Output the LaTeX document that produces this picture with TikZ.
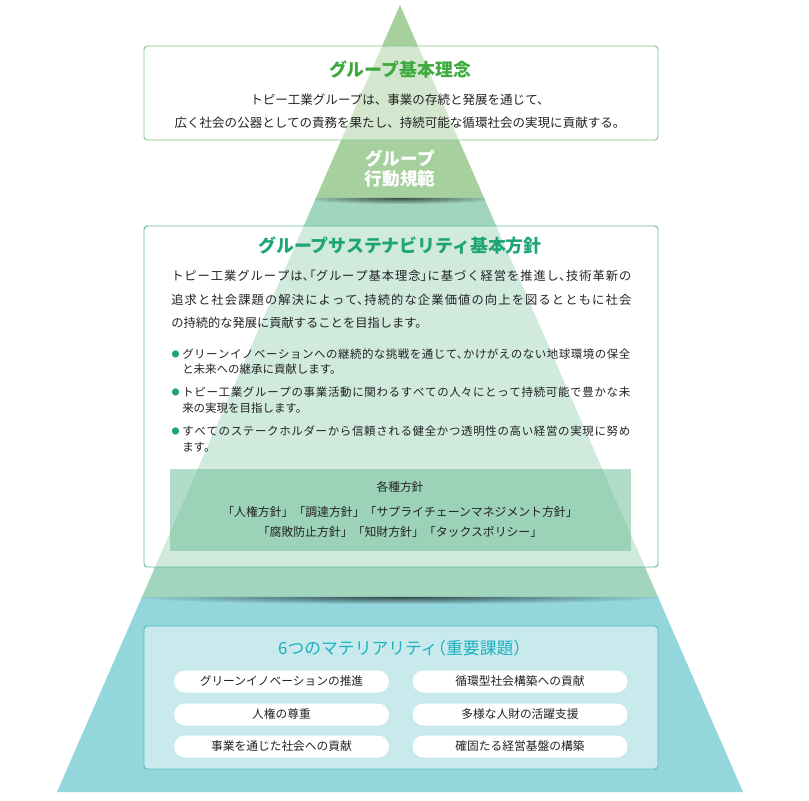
\documentclass[tikz,border=0pt]{standalone}
\usepackage{fontspec}
\setmainfont{Noto Sans CJK JP}
\newfontfamily\haltfont{Noto Sans CJK JP}[RawFeature=+halt]
\XeTeXlinebreaklocale "ja"
\XeTeXlinebreakskip=0pt plus 3pt
\usetikzlibrary{calc}

\definecolor{bandtop}{RGB}{166,208,158}
\definecolor{bandmid}{RGB}{161,213,190}
\definecolor{bandlow}{RGB}{147,214,220}
\definecolor{titleone}{RGB}{62,170,62}
\definecolor{titletwo}{RGB}{30,165,118}
\definecolor{titlethree}{RGB}{28,176,192}
\definecolor{lineone}{RGB}{125,200,128}
\definecolor{linetwo}{RGB}{95,188,148}
\definecolor{linethree}{RGB}{80,190,202}
\definecolor{policyfill}{RGB}{107,188,151}
\definecolor{bodytext}{RGB}{35,35,35}

\newcommand{\fullline}[1]{\parfillskip=0pt\relax#1\par}

\begin{document}
\begin{tikzpicture}[x=0.75pt,y=-0.75pt,
    card/.style={rounded corners=2.5pt, fill=white, fill opacity=0.5, line width=0.7pt},
    title/.style={inner sep=0pt, font=\fontsize{13.4}{16}\selectfont\bfseries},
    body/.style={inner sep=0pt, text=bodytext},
    parline/.style={body, anchor=west, text width=345pt, align=justify,
        font=\haltfont\fontsize{9.2}{11}\selectfont},
    bulline/.style={body, anchor=west, text width=336pt, align=justify,
        font=\haltfont\fontsize{8.6}{10}\selectfont},
    dot/.style={inner sep=0pt, text=titletwo, font=\fontsize{6}{6}\selectfont},
    pill/.style={body, fill=white, rounded corners=8pt, minimum width=161pt,
        minimum height=16.5pt, font=\fontsize{8.8}{10}\selectfont}]
\useasboundingbox (0,0) rectangle (809,800);

% pyramid
\coordinate (apex) at (400,5);
\coordinate (baseL) at (57,792);
\coordinate (baseR) at (743,792);
\coordinate (topL) at ($(apex)!0.2452!(baseL)$);
\coordinate (topR) at ($(apex)!0.2452!(baseR)$);
\coordinate (midL) at ($(apex)!0.7522!(baseL)$);
\coordinate (midR) at ($(apex)!0.7522!(baseR)$);

\fill[bandlow] (midL) -- (midR) -- (baseR) -- (baseL) -- cycle;
\fill[bandmid] (topL) -- (topR) -- (midR) -- (midL) -- cycle;
\fill[bandtop] (apex) -- (topR) -- (topL) -- cycle;

% shadows under the steps
\begin{scope}
\clip (topL) -- (topR) -- (midR) -- (midL) -- cycle;
\shade[inner color=black!65!bandmid, outer color=bandmid] (400,198) ellipse [x radius=100, y radius=6];
\end{scope}
\begin{scope}
\clip (midL) -- (midR) -- (baseR) -- (baseL) -- cycle;
\shade[inner color=black!65!bandlow, outer color=bandlow] (400,597) ellipse [x radius=270, y radius=7];
\end{scope}

% boxes
\draw[card, draw=lineone] (144,46) rectangle (658,140);
\draw[card, draw=linetwo] (144,226) rectangle (658,567);
\fill[policyfill, fill opacity=0.52] (170,469) rectangle (631,551);
\draw[card, draw=linethree] (144,626) rectangle (658,769);

% group philosophy
\node[title, text=titleone] (philo) at (400,70) {グループ基本理念};
\node[body, align=center, font=\fontsize{9.4}{17.3}\selectfont] (philotext) at (400,111.5)
    {トピー工業グループは、事業の存続と発展を通じて、\\
     広く社会の公器としての責務を果たし、持続可能な循環社会の実現に貢献する。};

% code of conduct
\node[title, text=white, align=center, font=\fontsize{13.2}{15}\selectfont\bfseries] (conduct) at (400,169)
    {グループ\\行動規範};

% sustainability policy
\node[title, text=titletwo] (susti) at (400,246) {グループサステナビリティ基本方針};
\node[parline] (par1) at (171,276) {\fullline{トピー工業グループは、「グループ基本理念」に基づく経営を推進し、技術革新の}};
\node[parline] (par2) at (171,299.5) {\fullline{追求と社会課題の解決によって、持続的な企業価値の向上を図るとともに社会}};
\node[parline] (par3) at (171,323) {の持続的な発展に貢献することを目指します。};

\node[dot] (dot1) at (175.5,354) {●};
\node[bulline] (bul1a) at (182,354) {\fullline{グリーンイノベーションへの継続的な挑戦を通じて、かけがえのない地球環境の保全}};
\node[bulline] (bul1b) at (182,369.5) {と未来への継承に貢献します。};
\node[dot] (dot2) at (175.5,392.5) {●};
\node[bulline] (bul2a) at (182,392.5) {\fullline{トピー工業グループの事業活動に関わるすべての人々にとって持続可能で豊かな未}};
\node[bulline] (bul2b) at (182,408) {来の実現を目指します。};
\node[dot] (dot3) at (175.5,431) {●};
\node[bulline] (bul3a) at (182,431) {\fullline{すべてのステークホルダーから信頼される健全かつ透明性の高い経営の実現に努め}};
\node[bulline] (bul3b) at (182,447) {ます。};

\node[body, font=\fontsize{8.8}{10}\selectfont] (policies) at (400,487.5) {各種方針};
\node[body, font=\fontsize{8.9}{10}\selectfont] (pol1) at (400,511.5) {「人権方針」「調達方針」「サプライチェーンマネジメント方針」};
\node[body, font=\fontsize{8.9}{10}\selectfont] (pol2) at (400,532) {「腐敗防止方針」「知財方針」「タックスポリシー」};

% materiality
\node[inner sep=0pt, text=titlethree, font=\haltfont\fontsize{12.6}{15}\selectfont] (mater) at (400,648)
    {6つのマテリアリティ（重要課題）};
\node[pill] (mat1) at (281.5,681.5) {グリーンイノベーションの推進};
\node[pill] (mat2) at (520,681.5) {循環型社会構築への貢献};
\node[pill] (mat3) at (281.5,714.5) {人権の尊重};
\node[pill] (mat4) at (520,714.5) {多様な人財の活躍支援};
\node[pill] (mat5) at (281.5,746.5) {事業を通じた社会への貢献};
\node[pill] (mat6) at (520,746.5) {確固たる経営基盤の構築};
\end{tikzpicture}
\end{document}
